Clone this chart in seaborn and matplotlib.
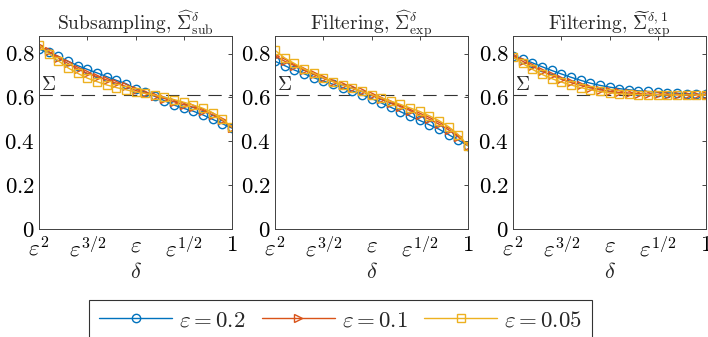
import numpy as np
import pandas as pd
import matplotlib
matplotlib.use("Agg")
import matplotlib.pyplot as plt
import seaborn as sns
from matplotlib.lines import Line2D

# -----------------------------
# Data
# -----------------------------
# delta grid: 21 points evenly spaced between eps^2 and 1 (exponent scale)
delta_pos = np.linspace(0, 4, 21)
tick_pos = [0, 1, 2, 3, 4]
tick_labels = [r"$\varepsilon^2$", r"$\varepsilon^{3/2}$", r"$\varepsilon$",
               r"$\varepsilon^{1/2}$", r"$1$"]

eps_labels = [r"$\varepsilon = 0.2$", r"$\varepsilon = 0.1$", r"$\varepsilon = 0.05$"]
sigma_true = 0.61

# Subsampling
sub_02 = [0.82, 0.805, 0.787, 0.765, 0.745, 0.728, 0.712, 0.695, 0.678, 0.663, 0.64,
          0.625, 0.605, 0.585, 0.565, 0.55, 0.537, 0.52, 0.50, 0.48, 0.46]
sub_01 = [0.835, 0.81, 0.78, 0.755, 0.73, 0.71, 0.695, 0.68, 0.665, 0.65, 0.632,
          0.62, 0.607, 0.595, 0.58, 0.567, 0.555, 0.54, 0.52, 0.495, 0.462]
sub_005 = [0.84, 0.80, 0.767, 0.735, 0.71, 0.688, 0.672, 0.657, 0.645, 0.635, 0.625,
           0.618, 0.61, 0.60, 0.59, 0.578, 0.565, 0.55, 0.53, 0.50, 0.465]

# Filtering, hat
exp_02 = [0.765, 0.745, 0.725, 0.708, 0.69, 0.675, 0.66, 0.645, 0.63, 0.613, 0.595,
          0.575, 0.555, 0.535, 0.515, 0.495, 0.475, 0.455, 0.43, 0.405, 0.38]
exp_01 = [0.79, 0.765, 0.745, 0.725, 0.705, 0.688, 0.672, 0.657, 0.642, 0.627, 0.61,
          0.592, 0.575, 0.558, 0.54, 0.52, 0.50, 0.478, 0.452, 0.42, 0.38]
exp_005 = [0.815, 0.78, 0.755, 0.73, 0.71, 0.69, 0.672, 0.657, 0.642, 0.628, 0.612,
           0.598, 0.583, 0.568, 0.552, 0.536, 0.516, 0.494, 0.466, 0.43, 0.38]

# Filtering, tilde
til_02 = [0.79, 0.775, 0.758, 0.74, 0.723, 0.707, 0.692, 0.678, 0.665, 0.655, 0.647,
          0.64, 0.635, 0.63, 0.627, 0.624, 0.621, 0.619, 0.617, 0.615, 0.614]
til_01 = [0.79, 0.765, 0.742, 0.72, 0.70, 0.683, 0.668, 0.655, 0.644, 0.635, 0.628,
          0.623, 0.62, 0.617, 0.615, 0.614, 0.613, 0.612, 0.612, 0.612, 0.612]
til_005 = [0.785, 0.755, 0.728, 0.705, 0.686, 0.67, 0.657, 0.645, 0.635, 0.627, 0.621,
           0.617, 0.614, 0.613, 0.612, 0.612, 0.611, 0.611, 0.611, 0.611, 0.611]

titles = [r"Subsampling, $\widehat{\Sigma}^{\delta}_{\mathrm{sub}}$",
          r"Filtering, $\widehat{\Sigma}^{\delta}_{\mathrm{exp}}$",
          r"Filtering, $\widetilde{\Sigma}^{\delta,1}_{\mathrm{exp}}$"]
panels = [[sub_02, sub_01, sub_005], [exp_02, exp_01, exp_005], [til_02, til_01, til_005]]

colors = ["#0072BD", "#D95319", "#EDB120"]
markers = ["o", ">", "s"]

# -----------------------------
# Plot
# -----------------------------
sns.set_style("white")
plt.rcParams["font.family"] = ["cmr10", "DejaVu Serif"]
plt.rcParams["mathtext.fontset"] = "cm"
plt.rcParams["axes.unicode_minus"] = False

fig = plt.figure(figsize=(7.08, 3.37), dpi=100)
lefts = [39 / 708, 275 / 708, 513 / 708]
w = 193 / 708
b = 1 - 229 / 337
h = 193 / 337

for i, (title, series) in enumerate(zip(titles, panels)):
    ax = fig.add_axes([lefts[i], b, w, h])
    for vals, c, m, lab in zip(series, colors, markers, eps_labels):
        df = pd.DataFrame({"delta": delta_pos, "sigma": vals})
        sns.lineplot(data=df, x="delta", y="sigma", ax=ax, color=c, marker=m,
                     markersize=6, markerfacecolor="none", markeredgecolor=c,
                     markeredgewidth=1.0, linewidth=1.0, legend=False)
    ax.axhline(sigma_true, color="#333333", lw=0.8, dashes=(12, 7), zorder=0.5)
    ax.text(0.05, sigma_true + 0.005, r"$\Sigma$", fontsize=14, va="bottom", ha="left")

    ax.set_xlim(0, 4)
    ax.set_ylim(0, 0.88)
    ax.set_xticks(tick_pos)
    ax.set_xticklabels(tick_labels)
    ax.set_yticks([0, 0.2, 0.4, 0.6, 0.8])
    ax.set_yticklabels([r"$0$", r"$0.2$", r"$0.4$", r"$0.6$", r"$0.8$"])
    ax.tick_params(direction="in", length=3, width=0.6, labelsize=16.5, pad=3,
                   colors="#262626", labelcolor="black", top=True, right=True)
    ax.tick_params(axis="x", pad=5)
    ax.set_xlabel(r"$\delta$", fontsize=16, labelpad=1)
    ax.set_ylabel("")
    ax.set_title(title, fontsize=14, pad=4)
    for s in ax.spines.values():
        s.set_color("#404040")
        s.set_linewidth(0.7)

handles = [Line2D([], [], color=c, marker=m, markersize=6, markerfacecolor="none",
                  markeredgecolor=c, markeredgewidth=1.0, linewidth=1.0)
           for c, m in zip(colors, markers)]
leg = fig.legend(handles, eps_labels, loc="center", ncol=3,
                 bbox_to_anchor=(340.5 / 708, 1 - 320 / 337), fontsize=16.5,
                 frameon=True, fancybox=False, edgecolor="black", handlelength=3.2,
                 columnspacing=0.7, handletextpad=0.3, borderpad=0.45,
                 borderaxespad=0, markerfirst=True)
leg.get_frame().set_linewidth(0.8)

fig.savefig("out.png", dpi=100)
